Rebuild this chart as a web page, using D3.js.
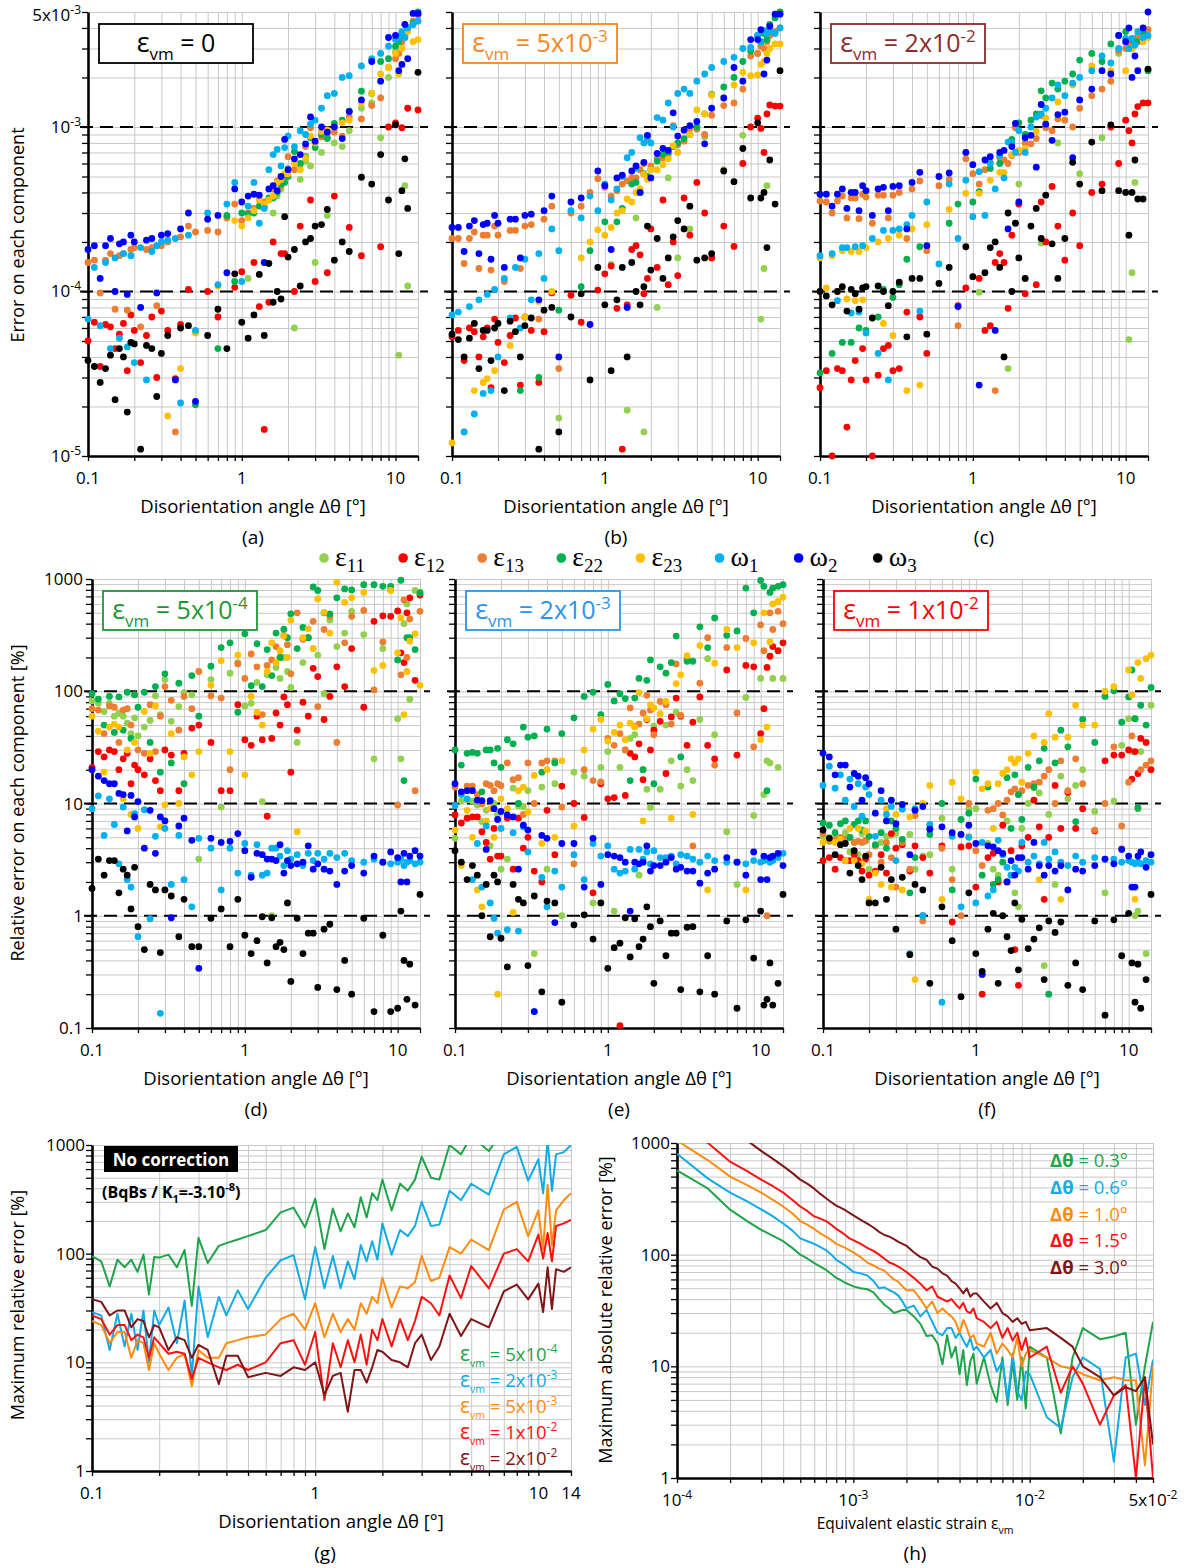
<!DOCTYPE html>
<html>
<head>
<meta charset="utf-8">
<script src="https://cdn.jsdelivr.net/npm/d3@7"></script>
<style>
body { margin: 0; background: #fff; }
</style>
</head>
<body>
<div id="chart"></div>
<script>
var _ = null;

// disorientation angles (deg) shared by the scatter panels and panel (g)
var dTheta = [0.1,0.11,0.12,0.13,0.14,0.15,0.16,0.17,0.18,0.19,0.2, 0.22,0.24,0.26,0.28,0.3,0.33,0.37,0.4,0.45,0.5, 0.6,0.7,0.8,0.9,1,1.1,1.2,1.3,1.4,1.5,1.6,1.7,1.8,1.9,2, 2.2,2.4,2.6,2.8,3,3.3,3.6,4,4.5,5,6,7,8,9, 10,10.5,11,11.5,12,13,14];

var components = [["ε","11"],["ε","12"],["ε","13"],["ε","22"],["ε","23"],["ω","1"],["ω","2"],["ω","3"]];
var compColors = ["#92D050","#FF0000","#ED7D31","#00B050","#FFC000","#00B0F0","#0000FF","#000000"];

// (a) eps_vm = 0, error in units of 1e-5, order e11 e12 e13 e22 e23 w1 w2 w3
var errA = [
 [_,_,_,_,_,_,_,_,_,_,_, _,_,_,_,_,_,_,_,_,_, _,_,_,_,_,12,_,_,_,_,30,38,42,50,56, 6,48,62,58,15,70,29,80,76,95,130,140,86,200, 290,4.1,300,44,10.8,420,480],
 [5.0,6.5,3.5,6.3,6.1,4.5,5.5,6.4,3.3,7.2,5.8, 3.7,5.4,7.0,3.0,7.6,5.8,2.95,6.3,10.3,_, 10,7.0,_,10.6,13.2,_,15,8.1,1.45,8.6,20,_,17,17,_, 10,25,_,36,11.5,_,13,38,_,24.5,16.5,_,18.7,100, 106,_,99,_,130,_,127],
 [15,15.5,9.8,15.5,17,7.8,16.5,17,7.7,18,18.5, 6.1,18,18.5,8.2,19,20,1.4,21.5,25,23, 23.5,23,28,34,27,30,32,36,35,36,42,47,44,50,66, 55,59,76,99,80,87,86,93,88,115,112,135,150,230, 260,280,330,350,400,440,480],
 [_,_,_,_,_,_,_,_,_,_,_, _,_,_,_,_,_,_,_,_,2.05, _,4.5,29,11.5,30,29.5,30,33,33,37,37,40,45,46,50, 71,60,66,86,75,90,85,105,110,125,165,160,250,260, 310,330,370,360,400,430,500],
 [_,_,_,_,_,_,_,_,_,_,_, _,_,_,_,_,1.75,_,3.4,_,5.6, _,10.8,_,27,25,28,31,36,34,36,38,46,48,52,52, 60,55,65,88,80,94,96,100,106,110,140,160,210,230, 280,210,300,350,380,330,340],
 [6.8,14,6.2,15,4.5,16,5.2,17,4.6,16.5,3.7, 18.5,2.9,17.5,19,20,20.5,21,2.1,22,5.8, 30,11,34,46,11.5,33,46,26,32,55,68,73,58,75,88, 76,95,90,104,110,130,155,160,200,205,235,260,280,310, 340,350,380,350,400,420,440],
 [18,19,12,19,21,10,19.5,20,9.6,22,20, 8,20.5,21,9.8,22,22.5,2.9,24,30,2.15, 27.5,29,13,42,35,38,39,38.5,15,42,44,41,50,84,55, 64,68,79,115,82,100,93,100,85,124,146,250,190,350, 360,220,240,420,260,490,490],
 [3.8,3.5,2.8,3.4,4.1,2.2,4.5,4.0,1.85,4.9,4.8, 1.1,4.7,4.5,2.3,4.2,5.4,_,6.0,6.2,_, 5.4,7.8,4.5,12.8,6.5,5.2,7.2,12.7,5.4,14.8,8.6,10,9,28.5,16.2, 18,10.8,20,21,25,25.5,31.5,15.5,20,17.5,49.5,45,68,36, 103,17,41,64,32,_,215]
];

// (b) eps_vm = 5e-3, units of 1e-5
var errB = [
 [_,_,_,_,_,_,_,_,_,_,_, _,_,_,_,_,_,_,_,_,1.7, _,_,_,_,_,14.6,_,_,1.9,_,28,_,1.4,_,_, 8,_,49,_,16,_,24,_,87,_,55,_,89,_, 280,6.8,13.8,44,_,380,490],
 [5.3,5.8,3.8,6,5.7,4,5.3,6,2.6,6.8,4.9, 3.7,5.4,6.9,2.7,7,5.8,2.8,5.7,9.8,_, 9.5,6.5,_,10.2,12.8,14.3,7.9,1.1,8.3,18,19,16.7,9.7,12,24, 14,36,11,20,12.5,37,22,46,30,16,25,18.8,60,100, 113,98,70,120,136,134,134],
 [21,21,14.8,21,23,13.8,22,22,13.5,25,22, 11.5,23.5,23.5,13.8,25,25.5,6.8,27.5,33,3.4, 30,33,40,48.5,43,38,41,45,47,49,49,55,60,83,58, 64,65,68,102,78,82,98,97,90,118,135,140,170,270, 280,310,300,330,360,380,400],
 [_,_,_,_,_,_,_,_,_,_,_, _,_,_,2.5,_,_,3.0,_,_,7.7, _,10.7,17.7,_,26.5,_,26.5,32,_,45,46,40,52,50,55, 62,68,70,76,80,85,90,100,120,158,175,200,250,290, 360,330,370,340,420,460,500],
 [1.2,_,1.4,_,2.5,_,2.8,2.95,_,3.3,_, _,4.7,_,_,7,_,8.7,_,10,_, _,16,20,23.7,22,24.5,30,31,36.5,35,40,42,51.5,48,55, 55,59,64,77,70,95,90,127,120,156,150,180,215,205, 207,240,250,280,300,320,320],
 [7.2,7.5,1.4,8.1,1.8,8.9,2.4,9.6,2.5,10.3,4, 12,6.9,14,6,15.7,8.9,17,12,24,17.7, 31,28,38,31,45,36,42,50,65,70,56,86,80,87,80, 114,110,140,100,160,170,160,190,210,230,250,265,300,305, 360,330,385,370,380,370,400],
 [24.5,24.5,17.5,25,27,17,25.5,26,15.7,29,26, 14,27.5,27.5,16,29,29.5,8.9,31,38,4, 35,37,6.3,54,44,18,49,51,8,54,58,40,61,89,49, 69,74,72,122,88,96,102,108,79,130,150,230,190,340, 340,390,210,255,410,485,485],
 [5.5,5.1,4,5.2,6.4,3.4,5.8,5.8,3.8,6,6.4, 2.5,6.6,5.7,4,6.2,6.9,1.1,7.7,8,1.4, 7,9.7,2.9,14,8.3,3.3,8.9,14,4,15,10,8.3,10.7,25,13.5, 21,12,16,21.5,27,24,33,15.5,16,17,54,46.5,74,37, 106,37,40,18.5,63,34,220]
];

// (c) eps_vm = 2e-2, units of 1e-5
var errC = [
 [_,_,_,_,_,_,_,_,_,_,_, _,_,_,_,_,_,_,_,_,_, _,_,_,_,_,9.9,_,_,_,_,_,3.4,_,_,45, 12,_,_,19.7,_,_,80,_,_,52,_,86,_,280, _,5.1,13,46,_,_,220],
 [2.6,3.3,1.0,3.4,3.3,1.5,2.9,3.8,_,4.5,2.9, 1.0,3.1,4.5,4.7,3.3,3.4,7.5,_,7,4.2, _,_,8.2,10.5,_,12,5.8,6.2,15,17,15,7.9,22,_,34, 9.7,_,11,35,20,43.5,25,15.5,30,19,40,45,100,60, 110,95,80,120,133,140,140],
 [35.5,35,30,35.5,38,28,37,37,27.7,39,37.5, 26,38.5,38.5,28,38.5,40,21,42,47,17.7, 44,48,6.2,64,52,45,55,61,2.5,65,63,60,67,99,70, 80,79,85,117,99,95,112,110,100,130,155,170,190,290, 300,320,300,340,360,380,390],
 [3.2,_,4.2,_,4.9,_,4.9,_,6,_,5.8, _,7,10.3,_,9.2,11,15.7,_,18.7,_, _,26,34,_,35,40.5,_,56,_,60,_,_,84,_,106, 90,110,120,166,150,185,170,190,210,255,280,250,320,360, 380,300,340,320,330,380,220],
 [16,10.5,16.5,10,17.7,9,17.5,8.8,17.5,8.9,18.5, 6.9,20,6.4,21,5.4,22,2.5,24,2.7,25.5, _,31.5,_,39.5,_,39.5,_,47.5,_,53,53,_,68,_,72, 74,_,94,_,113,_,142,_,180,_,235,_,220,_, 220,_,300,_,_,330,350],
 [16.5,_,17,8.8,18.5,18.5,7.4,18.7,7.5,19,5.6, 21,4.2,23.5,2.9,23.5,24,25.5,29,7.6,35, 14.7,45,21,47.5,28.5,53.5,29,60,42,67,49,81,80,70,95, 70,100,115,120,130,150,180,155,185,200,220,270,245,300, 345,300,345,315,380,350,360],
 [39,39,33,39,42,32,40,40,31,44,41, 29,42,43,31,43.5,44,24,46,53,19, 50,52.5,8.1,70,59,2.7,63,66,5.8,70,72,24,76,105,35, 86,89,57,137,104,83,119,123,65,146,170,220,210,360, 330,400,200,270,220,400,500],
 [10,9.4,8.3,10,10.7,7.6,10.3,9.7,7.8,10.5,10.7, 6.9,10.8,10,8.2,10,11.4,5.3,12,12,5.5, 11.2,14,_,18.7,12.3,_,13,18.5,20,14,4,30,10,26,16, 12,25,32,21,38.5,19.5,12,21,61,45,81,41,103,41, 40,22,40,63,36.5,36.5,225]
];

// (d) eps_vm = 5e-4, relative error in %
var relD = [
 [82,78,66,78,60,64,60,52,42,58,40, 48,55,91,62,127,54,73,97,93,3.2, 127,9.3,145,180,74,78,120,10.4,140,1,163,130,200,150,108, 35,180,300,240,210,95,430,250,330,515,320,25,240,800, 57,25,400,600,85,790,765],
 [21,29,26,30,29,20,25,28,15,22,20, 18,25,16,13,30,27,13,28,47,50, 35,13,13,76,37,33,60,37,7.7,38,64,50,89,76,19, 45,80,60,160,135,56,90,165,110,240,72,420,470,465, 520,220,180,500,680,125,720],
 [70,68,42,74,72,35,68,70,50,93,30, 28,76,29,60,110,83,45,90,70,150, 91,87,20,175,130,215,165,62,170,190,250,200,315,260,143, 500,290,300,420,73,355,465,35,270,465,525,103,275,800, 9.7,140,650,200,440,13,515],
 [95,85,50,90,43,89,45,98,38,93,72, 98,35,110,19,143,23,118,15,138,60, 167,245,270,65,325,112,265,110,235,138,330,200,357,300,490, 240,370,300,850,790,500,490,680,815,800,890,890,860,860, 190,975,16,300,300,235,750],
 [60,44,19,48,51,48,11,30,8,35,6, 66,28,74,6.2,9.7,42,10,26,18,29, 113,187,29,210,18,90,65,50,150,270,180,230,310,200,430, 5.6,300,360,240,665,505,330,935,620,680,760,153,170,790, 220,450,62,150,280,325,113],
 [9,11.7,5.2,11,6.5,2.9,9.3,2.1,1.8,8.1,0.65, 8.8,0.94,5.1,0.135,6,1.9,5.2,2.1,1.2,4.9, 4,1.7,4,2.4,4.4,2.3,4.3,2.3,2.4,4,4,3.4,2.8,3.8,3.2, 3.5,2.8,3.6,3.1,3.6,3.2,3.6,3.3,3.6,3.1,3,3.2,3,2.9, 3,3.2,2.8,3,3.1,2.9,3],
 [20,17.5,16,15,15,12.3,12,5.7,11.8,7.6,10.4, 4,8.7,3.6,7.6,7,0.96,6.3,7.4,4.7,0.34, 4.9,4.5,4.6,5.4,3.8,2.2,3.6,3.5,3.2,3.2,3.1,4.3,2.4,3.1,2.8, 2.9,3,4.2,2.6,2.9,2.6,2.5,1.9,2.5,2.8,2.4,3.4,3,3.7, 3.3,2,3.6,2,3.4,3.8,3.4],
 [1.75,3.2,2.3,3.1,3.1,1.6,2.6,2.3,1.15,2.7,0.8, 0.5,1.9,1.7,0.47,1.7,1.5,0.65,1.4,0.53,0.53, 0.95,1.15,0.53,1.4,0.67,0.46,0.6,0.98,0.38,0.96,0.53,0.58,0.5,1.3,0.26, 0.95,0.46,0.7,0.7,0.23,0.76,0.84,0.22,0.4,0.2,0.95,0.14,0.67,0.14, 0.15,1.1,0.4,0.18,0.37,0.16,1.55]
];

// (e) eps_vm = 2e-3, %
var relE = [
 [4.9,10.5,10.8,10.5,9.7,6.9,8.7,4.2,10,8,2.6, 3.2,13.7,9.5,9.4,13,0.46,14,2.6,15,1, 19,17.5,1.3,21,29,1.1,21,30,38,41,2.3,20,13.4,9.2,49, 13.4,50,24,65,14.3,20,16,56,195,41,5.6,1.9,88,7.8, 130,12,24,23,130,21,130],
 [7.9,6.7,7.4,7.6,7.6,5.6,4.5,3.2,6,3.4,3.4, 7.4,2.6,7.4,4,5,2.5,2,8.7,3.5,14.3, 10,7.5,1.6,15,11,11.3,0.105,11.8,28,26,34,16.3,56,30,45, 54,18.5,59,87,60,33,53,89,33,25,155,27,170,165, 42,70,163,205,250,230,270],
 [14,12.2,14.3,14.3,12,9.9,15,14.5,13,15,14.4, 23,16.3,17,8,23,10,23,24,24,9.3, 2.9,20,16,15.6,38,33,42,30,71,49,51,64,92,68,41, 81,76,51,175,61,195,4.2,118,300,22,245,64,295,32, 390,230,1,500,355,515,400],
 [30,22,28,28.5,28,12.7,30,30,23,31,21, 37,34,10,48,39,40,19,46,23,42, 58,90,98,62,115,82,95,86,16,87,130,20,125,190,15, 165,145,180,310,26,185,185,375,245,450,315,345,830,500, 970,860,13,760,830,860,890],
 [5.8,2.8,8.7,5,1.7,1.2,7,9,5,0.2,11, 9,1.07,13,14,8.4,17.8,4.4,20,5,24, 6.3,30,46,56,36,43,50,37,52,48,97,7,57,76,71, 63,81,7.4,117,140,208,8,255,1.7,178,355,245,1.7,270, 37,500,48,275,600,630,690],
 [9.6,12,11,2.1,4.4,1.8,6.3,1.3,0.95,0.7,6, 0.75,5.5,0.73,6.2,3.7,0.14,2.2,1.2,2.5,1.8, 3.5,2.1,4.4,3.4,4.2,2.6,2.4,2.5,3.9,2.6,3.9,3.2,3.7,2.9,3.8, 3.3,3.3,3.4,2.9,3.5,3.4,3.2,3,3.4,3.1,3,3,2.9,3.1, 3,3.1,3.2,3,3.1,3.3,3.6],
 [15,12.7,13,13,10.7,10.6,3.9,10.6,9,7.2,8.5, 7.9,7.6,2.6,6.4,5.8,0.14,5.2,4.9,0.87,4.4, 4.4,1.8,4.9,1.9,3.5,3.4,3.3,3,1.1,3,2.9,3,4.2,2.5,2.8, 2.8,3,3.3,2.6,2.7,2.5,2.5,1.95,2.4,2.6,3.3,3,2.3,3.7, 2.1,3.4,2.1,3.3,3.4,3.6,2.8],
 [3.8,3,2.1,2.8,2.3,1,1.9,0.65,2.3,2,0.63, 0.35,1.9,1.4,1.3,0.36,1.5,0.21,1.35,1.3,0.17, 0.83,1.02,0.62,1.3,0.34,0.52,0.57,0.96,0.43,0.94,0.53,0.62,1.2,0.8,0.25, 0.9,0.44,0.7,0.7,0.22,0.79,0.8,0.21,0.44,0.2,0.9,0.15,0.92,0.42, 1.1,0.16,0.18,0.38,0.16,0.25,1.55]
];

// (f) eps_vm = 1e-2, %
var relF = [
 [5.1,5,4.8,4.4,5.5,3.7,4.5,3.5,5.4,4.6,2.6, 4.2,4.5,5.1,5.2,5.4,4.8,5.3,2.6,3.4,3.5, 7.4,2.6,5.3,9,9,0.3,4.4,2.6,2.3,3.5,7,2.3,1.6,1.2,6, 10,13.8,12.4,0.36,8,1.9,17.5,11,14.5,20,8.5,1.6,10.5,33, 57,29,1,1.1,29,0.46,75],
 [3.1,3.3,2.6,3.3,3.1,3.1,3.5,3.1,2.5,3.2,2.3, 2.5,3.5,2.4,5.4,4,4.3,2.5,4.2,3.3,2.4, 4.2,0.88,4.1,4.2,1.8,0.2,3.3,3.6,2,6.4,2,3.8,0.5,0.24,4.2, 5,10.7,6.2,1.4,5,14.5,6,12.5,6,9,5.7,24,27,27, 30,16.5,29,18.5,38,35,20],
 [5.4,4.6,4.8,5,4.8,5,4.5,4.6,4.5,4.7,3.5, 4.2,3,4.5,3.3,1.8,4.5,2.6,7.8,0.9,6.3, 4,2.1,1,10,3.8,2.8,8.7,9,10,7.9,10.7,12.7,13.5,12,13, 14.5,15,15.5,17.5,20,10,24,13,25,15,5.8,10,32,6.3, 15.5,40,57,9,20,22,24],
 [6.7,6.4,5.5,6.6,7,5,6.5,7,5.8,7,5.1, 4.3,5.5,4,7,6,4.8,1.6,3.3,1,5.3, 10,1.7,7.2,8.2,16.5,2.3,14,1.9,2.1,3,17,6,18,12,7.2, 21,14,24,31,0.2,23,45,32,6.9,56,35,90,101,53, 89,155,57,9.2,75,50,108],
 [4.5,4.8,4.5,4.8,3.1,6,3.1,6,2.9,5.7,1.4, 2.4,1.9,9,1.8,8,1.7,7.6,0.27,10,14.5, 1.4,15.5,11,5.1,19,13.5,15,6,15,18.5,20,25,23,25,15.5, 28,40,2.1,35,63,39,1.4,39,75,50,50,100,110,4, 155,93,1.4,180,130,195,210],
 [14.5,21.5,13.7,18,10.7,16.5,9.4,15,7.7,14,12, 5.1,10.7,8,9.4,3.1,8.9,0.46,9,1,6.5, 0.17,5.1,1.2,5,1.3,4.5,1.5,1.7,4.7,3.5,2.7,2.3,2.7,2.5,4.5, 3,3.4,2.9,4.5,3.2,3.7,3,2.8,3.4,3,3.3,3.2,3.2,3, 3.1,3,2.9,3,2.9,3.1,3],
 [28,26,18,22,22,14,18.5,17.5,10.7,17,15, 8.2,13,7,10.7,6.6,9.8,3.5,8.7,9.4,5.9, 6.2,5.5,5.3,6.4,4.4,0.3,4.2,4.1,3.8,3.6,2,3.1,2.3,3.3,3.3, 2.6,4.5,2.8,2.3,2.8,2.5,2.8,1.7,2.6,2.5,2.8,3.2,2.9,3.9, 3.4,1.8,1.8,3.4,3.7,2.7,3.5],
 [5.8,4.9,3.5,4.3,4.4,2.4,3.8,2.8,2.1,3.4,1.3, 1.3,2.7,1.4,2.1,0.76,2.2,0.45,1.9,1.7,0.25, 1.2,0.6,0.19,1.6,0.46,0.32,0.76,1.05,0.25,1,0.65,0.49,1.3,0.33,0.93, 0.51,0.62,0.78,0.27,0.9,0.71,0.88,0.24,0.38,0.22,0.9,0.13,0.92,0.44, 1.05,0.38,0.17,0.37,0.15,0.27,1.55]
];

// (g) maximum relative error [%] vs disorientation, one series per eps_vm
var gLabels = [["5","-4"],["2","-3"],["5","-3"],["1","-2"],["2","-2"]];
var gColors = ["#1FA44A","#12ABE6","#FF8C10","#FF1010","#801416"];
var maxErr5e4 = [95,85,50,88,75,88,68,98,42,93,92, 98,75,108,33,140,82,118,125,135,145, 165,240,265,175,320,110,260,160,235,175,330,215,360,310,480, 250,440,380,480,780,500,480,1000,820,1200,880,1400,1500,1600, 1700,1600,1800,1700,1900,2000,2000];
var maxErr2e3 = [29,27,13,28,14,28,13,30,10,30,22, 32,15,37,7.5,50,17,40,27,46,31, 60,87,97,38,115,48,95,48,85,58,120,85,130,88,190, 98,165,145,180,300,180,185,380,310,440,350,820,960,470, 740,360,1100,380,820,860,1000];
var maxErr5e3 = [24,22,15,19,19,11,16,15,8.5,15,12, 8.5,11,12,6,13,11,11,15,16,17, 18,25,28,20,35,17,28,19,25,20,35,28,40,35,60, 32,50,48,55,95,56,60,115,100,135,108,255,300,145, 250,110,430,120,250,310,360];
var maxErr1e2 = [27,25,18,22,22,16,18,17,11,17,15, 12,12.5,12,7,11,10,9,8.5,9.5,8.5, 10,15,16,9.5,19,4.5,15,9,16,10,18,9.5,20,16,25, 14,25,16,24,40,35,27,63,39,77,48,100,110,85, 150,90,155,85,180,190,205];
var maxErr2e2 = [38,36,27,30,30,21,25,24,17,22,21, 13,17,16,11,14.5,13,6.3,11.5,11.5,7.3, 8,7.5,9,8.5,10,5,7.5,8,3.5,8.5,8.5,6.5,9,13,12.5, 10.5,10,9,15,18,10.5,14,28,17.5,25,21,45,52,38, 53,29,75,31,72,68,75];

// (h) maximum absolute relative error [%] vs equivalent elastic strain
var strain = [1e-4,1.5e-4,2e-4,2.5e-4,3e-4,3.5e-4,4e-4,4.5e-4,5e-4,5.5e-4,6e-4,6.5e-4,7e-4,7.5e-4,8e-4,8.5e-4,9e-4,9.5e-4,
 1e-3,1.1e-3,1.2e-3,1.3e-3,1.4e-3,1.5e-3,1.6e-3,1.7e-3,1.8e-3,1.9e-3,
 2e-3,2.2e-3,2.4e-3,2.6e-3,2.8e-3,3e-3,3.2e-3,3.4e-3,3.6e-3,3.8e-3,
 4e-3,4.2e-3,4.4e-3,4.6e-3,4.8e-3,5e-3,5.5e-3,6e-3,6.5e-3,7e-3,
 7.5e-3,8e-3,8.5e-3,9e-3,9.5e-3,
 1e-2,1.25e-2,1.5e-2,1.75e-2,2e-2,2.5e-2,3e-2,3.5e-2,4e-2,4.5e-2,5e-2];
var hLabels = ["0.3°","0.6°","1.0°","1.5°","3.0°"];
var hColors = ["#1FA44A","#12ABE6","#FF8C10","#FF1010","#801416"];
var absErr03 = [570,390,253,200,167,147,132,115,100,92,84,78,73,67,62,59,56,54, 52,50,49,46,40,35.6,33,30,31,32, 32,28,24,18.7,19,16,10.4,19,12,15, 8.5,14,6.8,11,13,7,12,6.8,4.8,12, 4.5,11,5,12,4.2, 15,12,2.5,12,22,17.5,18.5,20,3,10,25];
var absErr06 = [800,480,360,300,255,220,190,165,140,132,125,117,110,100,90,85,80,75, 70,68,65,58,50,51,48,46,43,38, 33,35,28,32,25,20,19,22,22,18, 20,17,15,18,14,15,12,14,9,11, 5,13,6,5,9, 8.5,3.5,2.8,8,12,9.5,1.4,12,13,4.5,11.5];
var absErr10 = [1050,700,500,420,360,310,270,235,200,185,170,155,145,135,125,120,115,110, 105,95,85,80,75,72,65,60,57,52, 48,48,40,33,38,30,33,30,28,25, 20,26,22,18,19,16,15,20,13,16, 14,12,18,10,13, 14,12,10,9.5,8.5,7.5,8,7.5,7.5,1.3,10];
var absErr15 = [1400,1000,680,560,470,410,360,310,270,245,220,210,200,185,170,160,150,140, 135,125,115,108,100,92,85,82,78,74, 70,62,55,48,52,42,40,38,40,36, 33,37,31,30,33,27,25,22,25,18, 22,17,20,14,18, 12,15,5.8,10,7,3,5.5,6.8,1,7.8,1];
var absErr30 = [2000,1500,1250,1050,850,720,620,540,470,430,390,350,320,295,275,262,250,237, 225,205,190,175,160,150,145,138,130,125, 120,105,95,90,78,75,68,65,58,55, 50,45,50,42,45,45,38,33,37,30, 28,25,27,24,25, 21,22,18,15,10,8,5.5,6.5,6,8,2];

var W = 1187, H = 1568;
var FONT = "'Open Sans', 'DejaVu Sans', sans-serif";
var GRID = "#c8c8c8";
var TICK = 17, TITLE = 18.5;

var svg = d3.select("#chart").append("svg")
    .attr("width", W).attr("height", H)
    .style("font-family", FONT)
    .style("background", "#fff");

var defs = svg.append("defs");
var clipN = 0;

function logGrid(lo, hi) {
    var out = [];
    for (var e = Math.floor(Math.log10(lo)) - 1; e <= Math.ceil(Math.log10(hi)); e++) {
        for (var m = 1; m < 10; m++) {
            var v = +(m * Math.pow(10, e)).toPrecision(4);
            if (v >= lo * 0.999 && v <= hi * 1.001) out.push(v);
        }
    }
    return out;
}

// grid, ticks and the two black axis lines
function frame(g, x, y, xs, ys) {
    var x0 = x.range()[0], x1 = x.range()[1], yb = y.range()[0], yt = y.range()[1];
    var gx = g.append("g").attr("transform", "translate(0," + yb + ")")
        .call(d3.axisBottom(x).tickValues(xs).tickSize(-(yb - yt)).tickFormat(""));
    var gy = g.append("g").attr("transform", "translate(" + x0 + ",0)")
        .call(d3.axisLeft(y).tickValues(ys).tickSize(-(x1 - x0)).tickFormat(""));
    [gx, gy].forEach(function(a) {
        a.select(".domain").remove();
        a.selectAll("line").attr("stroke", GRID).attr("stroke-width", 1);
    });
    var tx = g.append("g").attr("transform", "translate(0," + yb + ")")
        .call(d3.axisBottom(x).tickValues(xs).tickSize(5).tickSizeOuter(0).tickFormat(""));
    var ty = g.append("g").attr("transform", "translate(" + x0 + ",0)")
        .call(d3.axisLeft(y).tickValues(ys).tickSize(6).tickSizeOuter(0).tickFormat(""));
    [tx, ty].forEach(function(a) {
        a.selectAll("line").attr("stroke", "#000").attr("stroke-width", 1.3);
        a.select(".domain").attr("stroke", "#000").attr("stroke-width", 2.6);
    });
}

function dashes(g, x, y, vals) {
    g.selectAll(null).data(vals).enter().append("line")
        .attr("x1", x.range()[0] - 8).attr("x2", x.range()[1] + 10)
        .attr("y1", function(d) { return y(d); }).attr("y2", function(d) { return y(d); })
        .attr("stroke", "#000").attr("stroke-width", 2)
        .attr("stroke-dasharray", "13,7");
}

// text with optional sub/superscript pieces: parts = [[text, "n"|"sub"|"sup", size]]
function richText(g, x, y, parts, size, anchor, color, weight) {
    var t = g.append("text").attr("x", x).attr("y", y)
        .attr("text-anchor", anchor || "start")
        .attr("font-size", size).attr("fill", color || "#000")
        .attr("font-weight", weight || "normal");
    var shift = 0;
    parts.forEach(function(p) {
        var s = t.append("tspan").text(p[0]);
        var target = 0, fs = size;
        if (p[1] == "sub") { target = size * 0.3; fs = size * 0.68; }
        if (p[1] == "sup") { target = -size * 0.42; fs = size * 0.68; }
        if (p[2]) fs = p[2];
        s.attr("font-size", fs).attr("dy", target - shift);
        shift = target;
    });
    return t;
}

function vmBox(g, bx, by, color, mant, exp) {
    g.append("rect").attr("x", bx).attr("y", by).attr("width", 154).attr("height", 39)
        .attr("fill", "#fff").attr("stroke", color).attr("stroke-width", 1.8);
    var parts = [["ε", "n", 27], ["vm", "sub", 17]];
    if (mant == null) parts.push([" = 0", "n", 25]);
    else { parts.push([" = " + mant + "x10", "n", 25]); parts.push([exp, "sup", 17]); }
    richText(g, bx + 77, by + 28, parts, 25, "middle", color);
}

function xTickLabels(g, x, yb, labels) {
    labels.forEach(function(l) {
        g.append("text").attr("x", x(l[0])).attr("y", yb + 28)
            .attr("text-anchor", "middle").attr("font-size", TICK).text(l[1]);
    });
}

function scatterPanel(p) {
    var g = svg.append("g");
    var x = d3.scaleLog().domain([0.1, 14]).range([p.x0, p.x1]);
    var y = d3.scaleLog().domain(p.yDomain).range([p.yb, p.yt]);
    frame(g, x, y, logGrid(0.1, 14).concat([14]), logGrid(p.yDomain[0], p.yDomain[1]));
    dashes(g, x, y, p.dash);
    var lo = p.yDomain[0] * 0.999, hi = p.yDomain[1] * 1.001;
    p.data.forEach(function(vals, i) {
        var pts = [];
        vals.forEach(function(v, j) {
            if (v == null) return;
            var val = v * p.k;
            if (val >= lo && val <= hi) pts.push([dTheta[j], val]);
        });
        g.append("g").selectAll("circle").data(pts).enter().append("circle")
            .attr("cx", function(d) { return x(d[0]); })
            .attr("cy", function(d) { return y(d[1]); })
            .attr("r", 3.4).attr("fill", compColors[i]);
    });
    vmBox(g, p.x0 + 11, p.yt + 12, p.boxColor, p.mant, p.exp);
    xTickLabels(g, x, p.yb, [[0.1, "0.1"], [1, "1"], [10, "10"]]);
    richText(g, (p.x0 + p.x1) / 2, p.yb + 57, [["Disorientation angle Δθ [°]", "n"]], TITLE, "middle");
    g.append("text").attr("x", (p.x0 + p.x1) / 2).attr("y", p.yb + 88)
        .attr("text-anchor", "middle").attr("font-size", 19).text(p.tag);
    return { x: x, y: y, g: g };
}

// top row: absolute error
var topRow = { yt: 12, yb: 456, yDomain: [1e-5, 5e-3], k: 1e-5, dash: [1e-3, 1e-4] };
var pa = scatterPanel(Object.assign({}, topRow, { x0: 88, x1: 418, data: errA, boxColor: "#000", mant: null, tag: "(a)" }));
scatterPanel(Object.assign({}, topRow, { x0: 452, x1: 780, data: errB, boxColor: "#F7861E", mant: "5", exp: "-3", tag: "(b)" }));
scatterPanel(Object.assign({}, topRow, { x0: 820, x1: 1148, data: errC, boxColor: "#8E2A2A", mant: "2", exp: "-2", tag: "(c)" }));

[[5e-3, "5x10", "-3", 3], [1e-3, "10", "-3", 0], [1e-4, "10", "-4", 0], [1e-5, "10", "-5", 0]].forEach(function(t) {
    richText(svg, 81, pa.y(t[0]) + 6 + t[3], [[t[1], "n"], [t[2], "sup", 12]], TICK, "end");
});
svg.append("text").attr("transform", "translate(24,235) rotate(-90)")
    .attr("text-anchor", "middle").attr("font-size", 18).text("Error on each component");

// middle row: relative error
var midRow = { yt: 579, yb: 1028, yDomain: [0.1, 1000], k: 1, dash: [100, 10, 1] };
var pd = scatterPanel(Object.assign({}, midRow, { x0: 92, x1: 420, data: relD, boxColor: "#1E9636", mant: "5", exp: "-4", tag: "(d)" }));
scatterPanel(Object.assign({}, midRow, { x0: 455, x1: 783, data: relE, boxColor: "#2896EA", mant: "2", exp: "-3", tag: "(e)" }));
scatterPanel(Object.assign({}, midRow, { x0: 823, x1: 1151, data: relF, boxColor: "#FF0000", mant: "1", exp: "-2", tag: "(f)" }));

[[1000, "1000"], [100, "100"], [10, "10"], [1, "1"], [0.1, "0.1"]].forEach(function(t) {
    svg.append("text").attr("x", 83).attr("y", pd.y(t[0]) + 6).attr("text-anchor", "end")
        .attr("font-size", TICK).text(t[1]);
});
svg.append("text").attr("transform", "translate(24,803) rotate(-90)")
    .attr("text-anchor", "middle").attr("font-size", 18).text("Relative error on each component [%]");

// legend row
var leg = svg.append("g");
components.forEach(function(c, i) {
    var lx = 324 + i * 79.1;
    leg.append("circle").attr("cx", lx).attr("cy", 558).attr("r", 4.8).attr("fill", compColors[i]);
    var t = leg.append("text").attr("x", lx + 11).attr("y", 566)
        .style("font-family", "'Liberation Serif', 'DejaVu Serif', serif")
        .attr("font-size", 28).text(c[0]);
    t.append("tspan").attr("font-size", 19).attr("dy", 6).text(c[1]);
});

// line panels
function linePanel(p) {
    var g = svg.append("g");
    var x = d3.scaleLog().domain(p.xDomain).range([p.x0, p.x1]);
    var y = d3.scaleLog().domain([1, 1000]).range([p.yb, p.yt]);
    frame(g, x, y, p.xGrid, logGrid(1, 1000));
    var id = "clip" + (clipN++);
    defs.append("clipPath").attr("id", id).append("rect")
        .attr("x", p.x0).attr("y", p.yt).attr("width", p.x1 - p.x0).attr("height", p.yb - p.yt);
    var line = d3.line()
        .x(function(d, i) { return x(p.xs[i]); })
        .y(function(d) { return y(d); });
    p.series.forEach(function(s, i) {
        g.append("path").datum(s).attr("d", line).attr("fill", "none")
            .attr("stroke", p.colors[i]).attr("stroke-width", 2)
            .attr("stroke-linejoin", "round")
            .attr("clip-path", "url(#" + id + ")");
    });
    [[1000, "1000"], [100, "100"], [10, "10"], [1, "1"]].forEach(function(t) {
        g.append("text").attr("x", p.x0 - 7).attr("y", y(t[0]) + 6).attr("text-anchor", "end")
            .attr("font-size", TICK).text(t[1]);
    });
    return { x: x, y: y, g: g };
}

var pg = linePanel({ x0: 92, x1: 571, yt: 1145, yb: 1471, xDomain: [0.1, 14], xs: dTheta,
    xGrid: logGrid(0.1, 14).concat([14]),
    series: [maxErr5e4, maxErr2e3, maxErr5e3, maxErr1e2, maxErr2e2], colors: gColors });
xTickLabels(pg.g, pg.x, 1471, [[0.1, "0.1"], [1, "1"], [10, "10"], [14, "14"]]);
richText(svg, 331, 1528, [["Disorientation angle Δθ [°]", "n"]], TITLE, "middle");
svg.append("text").attr("x", 325).attr("y", 1560).attr("text-anchor", "middle").attr("font-size", 19).text("(g)");
svg.append("text").attr("transform", "translate(24,1305) rotate(-90)")
    .attr("text-anchor", "middle").attr("font-size", 18).text("Maximum relative error [%]");
svg.append("rect").attr("x", 104).attr("y", 1146).attr("width", 134).attr("height", 26).attr("fill", "#000");
svg.append("text").attr("x", 171).attr("y", 1166).attr("text-anchor", "middle")
    .attr("font-size", 17).attr("font-weight", "bold").attr("fill", "#fff").text("No correction");
richText(svg, 102, 1198, [["(BqBs / K", "n"], ["1", "sub", 11], ["=-3.10", "n", 16], ["-8", "sup", 11], [")", "n", 16]], 16, "start", "#000", "bold");
gLabels.forEach(function(l, i) {
    richText(svg, 460, 1361 + i * 26, [["ε", "n", 21], ["vm", "sub", 10.5], [" = " + l[0] + "x10", "n", 18.5], [l[1], "sup", 12]], 18.5, "start", gColors[i]);
});

var ph = linePanel({ x0: 677, x1: 1153, yt: 1143, yb: 1478, xDomain: [1e-4, 5e-2], xs: strain,
    xGrid: logGrid(1e-4, 5e-2),
    series: [absErr03, absErr06, absErr10, absErr15, absErr30], colors: hColors });
[[1e-4, "10", "-4"], [1e-3, "10", "-3"], [1e-2, "10", "-2"], [5e-2, "5x10", "-2"]].forEach(function(t) {
    richText(svg, ph.x(t[0]), 1506, [[t[1], "n"], [t[2], "sup", 12]], TICK, "middle");
});
richText(svg, 915, 1529, [["Equivalent elastic strain ε", "n"], ["vm", "sub", 10.5]], 15.5, "middle");
svg.append("text").attr("x", 915).attr("y", 1560).attr("text-anchor", "middle").attr("font-size", 19).text("(h)");
svg.append("text").attr("transform", "translate(612,1310) rotate(-90)")
    .attr("text-anchor", "middle").attr("font-size", 18).text("Maximum absolute relative error [%]");
hLabels.forEach(function(l, i) {
    var t = svg.append("text").attr("x", 1050).attr("y", 1167 + i * 26.8)
        .attr("font-size", 18.5).attr("fill", hColors[i]);
    t.append("tspan").attr("font-weight", "bold").text("Δθ");
    t.append("tspan").text(" = " + l);
});

// sanity check on array lengths
[errA, errB, errC, relD, relE, relF].forEach(function(p, k) {
    p.forEach(function(a, i) { if (a.length != dTheta.length) console.error("panel " + k + " series " + i + " length " + a.length); });
});
[maxErr5e4, maxErr2e3, maxErr5e3, maxErr1e2, maxErr2e2].forEach(function(a, i) {
    if (a.length != dTheta.length) console.error("g series " + i + " length " + a.length);
});
[absErr03, absErr06, absErr10, absErr15, absErr30].forEach(function(a, i) {
    if (a.length != strain.length) console.error("h series " + i + " length " + a.length);
});
</script>
</body>
</html>
